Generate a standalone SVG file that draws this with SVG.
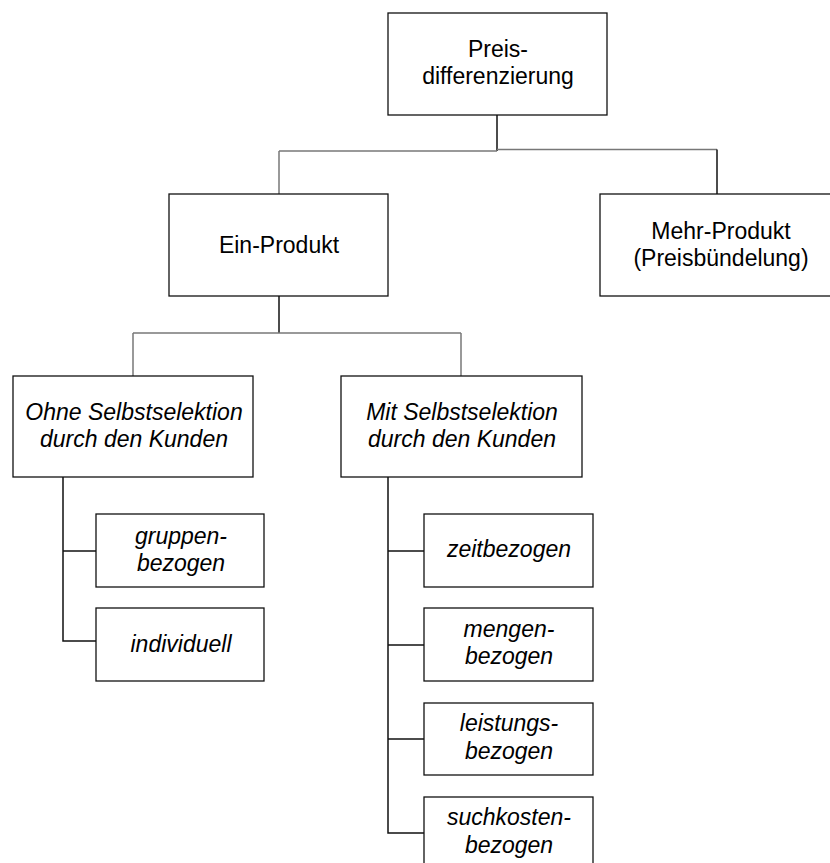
<svg xmlns="http://www.w3.org/2000/svg" width="830" height="863" viewBox="0 0 830 863">
  <style>
    .box { fill: #fff; stroke: #111; stroke-width: 1.3; }
    .lbl { font-family: "Liberation Sans", Arial, sans-serif; font-size: 23px; fill: #000; text-anchor: middle; }
    .it { font-style: italic; }
    .dk { fill: none; stroke: #111; stroke-width: 1.5; }
    .lt { fill: none; stroke: #777; stroke-width: 1.5; }
  </style>
  <rect width="830" height="863" fill="#fff"/>

  <!-- connectors -->
  <g id="connectors">
    <path class="dk" d="M497 115 V151"/>
    <path class="lt" d="M279 151 H497"/>
    <path class="lt" d="M497 149.5 H717"/>
    <path class="lt" d="M279 151 V194"/>
    <path class="dk" d="M717 149.5 V194"/>
    <path class="dk" d="M279 296 V333"/>
    <path class="lt" d="M133 333 H461"/>
    <path class="lt" d="M133 333 V376"/>
    <path class="lt" d="M461 333 V376"/>
    <path class="dk" d="M63 477 V641 H96"/>
    <path class="dk" d="M63 551 H96"/>
    <path class="dk" d="M388 477 V833 H424"/>
    <path class="dk" d="M388 551 H424"/>
    <path class="dk" d="M388 645 H424"/>
    <path class="dk" d="M388 739 H424"/>
  </g>

  <g id="preisdifferenzierung">
    <rect class="box" x="388" y="13" width="219" height="102"/>
    <text class="lbl" x="498" y="57">Preis-</text>
    <text class="lbl" x="498" y="84">differenzierung</text>
  </g>

  <g id="ein-produkt">
    <rect class="box" x="169" y="194" width="219" height="102"/>
    <text class="lbl" x="279" y="253">Ein-Produkt</text>
  </g>

  <g id="mehr-produkt">
    <rect class="box" x="600" y="194" width="242" height="102"/>
    <text class="lbl" x="721" y="239">Mehr-Produkt</text>
    <text class="lbl" x="721" y="266">(Preisbündelung)</text>
  </g>

  <g id="ohne-selbstselektion">
    <rect class="box" x="13" y="376" width="240" height="101"/>
    <text class="lbl it" x="134" y="420">Ohne Selbstselektion</text>
    <text class="lbl it" x="134" y="447">durch den Kunden</text>
  </g>

  <g id="mit-selbstselektion">
    <rect class="box" x="341" y="376" width="241" height="101"/>
    <text class="lbl it" x="462" y="420">Mit Selbstselektion</text>
    <text class="lbl it" x="462" y="447">durch den Kunden</text>
  </g>

  <g id="gruppenbezogen">
    <rect class="box" x="96" y="514" width="168" height="73"/>
    <text class="lbl it" x="181" y="544">gruppen-</text>
    <text class="lbl it" x="181" y="571">bezogen</text>
  </g>

  <g id="individuell">
    <rect class="box" x="96" y="608" width="168" height="73"/>
    <text class="lbl it" x="181" y="652">individuell</text>
  </g>

  <g id="zeitbezogen">
    <rect class="box" x="424" y="514" width="169" height="73"/>
    <text class="lbl it" x="509" y="557">zeitbezogen</text>
  </g>

  <g id="mengenbezogen">
    <rect class="box" x="424" y="608" width="169" height="73"/>
    <text class="lbl it" x="509" y="637">mengen-</text>
    <text class="lbl it" x="509" y="664">bezogen</text>
  </g>

  <g id="leistungsbezogen">
    <rect class="box" x="424" y="703" width="169" height="72"/>
    <text class="lbl it" x="509" y="731">leistungs-</text>
    <text class="lbl it" x="509" y="759">bezogen</text>
  </g>

  <g id="suchkostenbezogen">
    <rect class="box" x="424" y="797" width="169" height="73"/>
    <text class="lbl it" x="509" y="825">suchkosten-</text>
    <text class="lbl it" x="509" y="853">bezogen</text>
  </g>
</svg>
